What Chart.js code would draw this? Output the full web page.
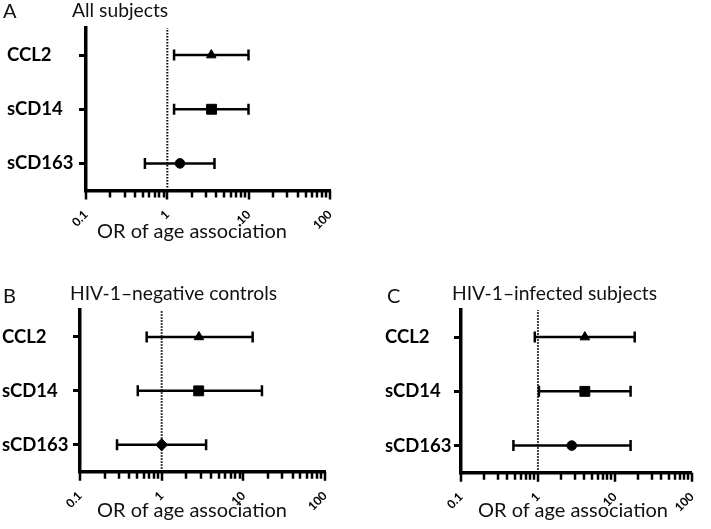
<!DOCTYPE html>
<html>
<head>
<meta charset="utf-8">
<script src="https://cdn.jsdelivr.net/npm/chart.js@4.4.1/dist/chart.umd.min.js"></script>
<style>
  body { margin: 0; background: #fff; }
  #fig { position: relative; width: 711px; height: 529px; overflow: hidden; font-family: Lato, sans-serif; color: #111; }
  canvas { position: absolute; }
  .txt { position: absolute; white-space: nowrap; line-height: 1; }
  .letter { font-size: 20px; }
  .title { font-size: 19.3px; }
  .axis { font-size: 20px; }
</style>
</head>
<body>
<div id="fig">
  <canvas id="chartA" width="355" height="250" style="left:0;top:0"></canvas>
  <canvas id="chartB" width="355" height="249" style="left:0;top:280px"></canvas>
  <canvas id="chartC" width="356" height="249" style="left:355px;top:280px"></canvas>

  <div class="txt letter" style="left:3px;top:0px">A</div>
  <div class="txt title" style="left:72px;top:0px">All subjects</div>
  <div class="txt axis" style="left:97px;top:220px">OR of age association</div>

  <div class="txt letter" style="left:3px;top:285px">B</div>
  <div class="txt title" style="left:70px;top:283px">HIV-1–negative controls</div>
  <div class="txt axis" style="left:97px;top:499px">OR of age association</div>

  <div class="txt letter" style="left:387px;top:285px">C</div>
  <div class="txt title" style="left:452px;top:283px">HIV-1–infected subjects</div>
  <div class="txt axis" style="left:478px;top:499px">OR of age association</div>
</div>
<script>
// Forest plots: odds ratio of age association, log x axis
const rows = ['CCL2', 'sCD14', 'sCD163'];
const rowPos = [2, 1, 0];

// A: all subjects
const allOR = [3.47, 3.5, 1.43];
const allLow = [1.21, 1.21, 0.53];
const allHigh = [9.95, 9.95, 3.8];

// B: HIV-1-negative controls
const negOR = [2.86, 2.84, 1.0];
const negLow = [0.655, 0.51, 0.284];
const negHigh = [13.0, 16.9, 3.5];

// C: HIV-1-infected subjects
const infOR = [4.07, 4.07, 2.75];
const infLow = [0.91, 1.03, 0.48];
const infHigh = [18.1, 16.0, 16.0];

const xTicks = [0.1, 0.2, 0.3, 0.4, 0.5, 0.6, 0.7, 0.8, 0.9,
  1, 2, 3, 4, 5, 6, 7, 8, 9,
  10, 20, 30, 40, 50, 60, 70, 80, 90, 100];
const xMajor = [0.1, 1, 10, 100];
const xMajorLabels = ['0.1', '1', '10', '100'];
const refOR = 1;

// tick marks under the log axis (major ones a bit longer)
const logTickMarks = {
  id: 'logTickMarks',
  beforeDatasetsDraw(chart) {
    const xs = chart.scales.x;
    const ctx = chart.ctx;
    const y0 = chart.chartArea.bottom;
    ctx.save();
    ctx.setLineDash([]);
    ctx.globalAlpha = 1;
    ctx.strokeStyle = '#000';
    ctx.lineWidth = 2.5;
    ctx.beginPath();
    xTicks.forEach(v => {
      const px = Math.round(xs.getPixelForValue(v));
      const len = xMajor.includes(v) ? 9 : 7;
      ctx.moveTo(px, y0);
      ctx.lineTo(px, y0 + len);
    });
    ctx.stroke();
    ctx.restore();
  }
};

function makeChart(id, geom, or, low, high, markers) {
  const datasets = [];

  // point estimates
  datasets.push({
    data: rows.map((r, i) => ({ x: or[i], y: rowPos[i] })),
    pointStyle: markers.style,
    pointRadius: markers.radius,
    backgroundColor: '#000',
    borderColor: '#000',
    borderWidth: 1
  });

  // confidence intervals with end caps
  rows.forEach((r, i) => {
    datasets.push({
      data: [{ x: low[i], y: rowPos[i] }, { x: high[i], y: rowPos[i] }],
      showLine: true,
      borderColor: '#000',
      borderWidth: 2.5,
      pointStyle: 'line',
      pointRotation: 90,
      pointRadius: 5.5,
      pointBorderWidth: 2.5,
      pointBorderColor: '#000'
    });
  });

  // dotted reference line at OR = 1
  datasets.push({
    data: [{ x: refOR, y: -0.5 }, { x: refOR, y: 2.5 }],
    showLine: true,
    borderColor: '#000',
    borderWidth: 2,
    borderDash: [1.5, 1.5],
    pointRadius: 0
  });

  return new Chart(document.getElementById(id), {
    type: 'scatter',
    data: { datasets },
    plugins: [logTickMarks],
    options: {
      responsive: false,
      animation: false,
      layout: {
        padding: { left: geom.labelLeft, top: geom.t, right: geom.w - geom.r, bottom: 0 }
      },
      plugins: {
        legend: { display: false },
        tooltip: { enabled: false }
      },
      scales: {
        x: {
          type: 'logarithmic',
          min: 0.1,
          max: 100,
          afterBuildTicks: s => { s.ticks = xTicks.map(v => ({ value: v })); },
          afterFit: s => { s.height = geom.h - geom.b; },
          border: { color: '#000', width: 3.5 },
          grid: { display: false },
          ticks: {
            autoSkip: false,
            minRotation: 45,
            maxRotation: 45,
            padding: 9,
            color: '#000',
            font: { family: 'Lato', weight: 'bold', size: 12 },
            callback: v => {
              const k = xMajor.indexOf(v);
              return k < 0 ? '' : xMajorLabels[k];
            }
          }
        },
        y: {
          type: 'linear',
          min: -0.5,
          max: 2.5,
          afterBuildTicks: s => { s.ticks = rowPos.map(v => ({ value: v })); },
          afterFit: s => { s.width = geom.l - geom.labelLeft; },
          border: { color: '#000', width: 3.5 },
          grid: { drawOnChartArea: false, drawTicks: true, tickLength: 7, tickWidth: 3, tickColor: '#000' },
          ticks: {
            crossAlign: 'far',
            color: '#000',
            font: { family: 'Lato', weight: 'bold', size: 18.5 },
            callback: v => rows[rowPos.indexOf(v)]
          }
        }
      }
    }
  });
}

const roundMarkers = { style: ['triangle', 'rect', 'circle'], radius: [5.5, 7, 4.8] };
const diamondMarkers = { style: ['triangle', 'rect', 'rectRot'], radius: [5.5, 7, 6] };

makeChart('chartA', { w: 355, h: 250, labelLeft: 7, l: 86, t: 28, r: 330, b: 190.5 }, allOR, allLow, allHigh, roundMarkers);
makeChart('chartB', { w: 355, h: 249, labelLeft: 2, l: 80, t: 30, r: 325, b: 191.7 }, negOR, negLow, negHigh, diamondMarkers);
makeChart('chartC', { w: 356, h: 249, labelLeft: 30, l: 106, t: 30, r: 352, b: 192.7 }, infOR, infLow, infHigh, roundMarkers);
</script>
</body>
</html>
